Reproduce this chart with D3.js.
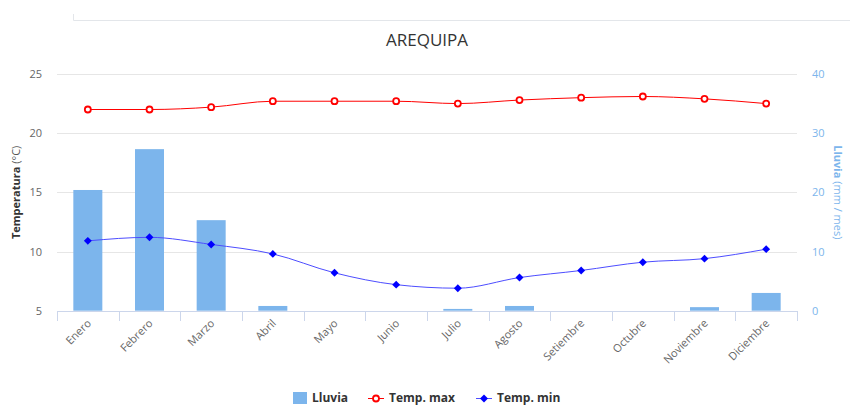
<!DOCTYPE html>
<html>
<head>
<meta charset="utf-8">
<script src="https://cdn.jsdelivr.net/npm/d3@7"></script>
<style>
  body { margin: 0; background: #fff; }
  svg { font-family: "Open Sans", "DejaVu Sans", sans-serif; }
</style>
</head>
<body>
<div id="chart"></div>
<script>
var months = ['Enero', 'Febrero', 'Marzo', 'Abril', 'Mayo', 'Junio', 'Julio',
              'Agosto', 'Setiembre', 'Octubre', 'Noviembre', 'Diciembre'];
var lluvia = [20.4, 27.3, 15.3, 0.8, 0, 0, 0.3, 0.8, 0, 0, 0.6, 3.0];
var tempMax = [22.0, 22.0, 22.2, 22.7, 22.7, 22.7, 22.5, 22.8, 23.0, 23.1, 22.9, 22.5];
var tempMin = [10.9, 11.2, 10.6, 9.8, 8.2, 7.2, 6.9, 7.8, 8.4, 9.1, 9.4, 10.2];
var tempTicks = [5, 10, 15, 20, 25];
var rainTicks = [0, 10, 20, 30, 40];

(function() {
var width = 850,
    height = 405,
    pLeft = 57,
    pRight = 797,
    pTop = 74,
    pBottom = 310.7;

var svg = d3.select('#chart').append('svg')
    .attr('width', width)
    .attr('height', height);

// container border remnant
svg.append('path')
    .attr('d', 'M73.5,14V20.5H850')
    .attr('fill', 'none')
    .attr('stroke', '#e3e6ea')
    .attr('stroke-width', 1);

var xScale = d3.scaleBand()
    .domain(months)
    .range([pLeft, pRight]);

var yTemp = d3.scaleLinear()
    .domain([5, 25])
    .range([pBottom, pTop]);

var yRain = d3.scaleLinear()
    .domain([0, 40])
    .range([pBottom, pTop]);

// gridlines
svg.append('g')
    .selectAll('line')
    .data(tempTicks.slice(1))
    .enter()
    .append('line')
    .attr('x1', pLeft)
    .attr('x2', pRight)
    .attr('y1', function(d) { return Math.round(yTemp(d)) + 0.5; })
    .attr('y2', function(d) { return Math.round(yTemp(d)) + 0.5; })
    .attr('stroke', '#e6e6e6');

// left axis labels
svg.append('g')
    .selectAll('text')
    .data(tempTicks)
    .enter()
    .append('text')
    .attr('x', 42)
    .attr('y', function(d) { return yTemp(d) + 4; })
    .attr('text-anchor', 'end')
    .style('font-size', '11px')
    .style('fill', '#666')
    .text(function(d) { return d; });

// right axis labels
svg.append('g')
    .selectAll('text')
    .data(rainTicks)
    .enter()
    .append('text')
    .attr('x', 812)
    .attr('y', function(d) { return yRain(d) + 4; })
    .attr('text-anchor', 'start')
    .style('font-size', '11px')
    .style('fill', '#7cb5ec')
    .text(function(d) { return d; });

// axis titles
var lt = svg.append('text')
    .attr('transform', 'translate(20,' + ((pTop + pBottom) / 2) + ') rotate(-90)')
    .attr('text-anchor', 'middle')
    .style('font-size', '11px')
    .style('fill', '#333');
lt.append('tspan').style('font-weight', 'bold').text('Temperatura');
lt.append('tspan').style('fill', '#555').text(' (°C)');

var rt = svg.append('text')
    .attr('transform', 'translate(834,' + ((pTop + pBottom) / 2) + ') rotate(90)')
    .attr('text-anchor', 'middle')
    .style('font-size', '11px')
    .style('fill', '#7cb5ec');
rt.append('tspan').style('font-weight', 'bold').text('Lluvia');
rt.append('tspan').text(' (mm / mes)');

// bars
var barWidth = 29;
svg.append('g')
    .selectAll('rect')
    .data(lluvia)
    .enter()
    .append('rect')
    .attr('x', function(d, i) { return xScale(months[i]) + xScale.bandwidth() / 2 - barWidth / 2; })
    .attr('y', function(d) { return yRain(d); })
    .attr('width', barWidth)
    .attr('height', function(d) { return pBottom - yRain(d); })
    .attr('fill', '#7cb5ec');

// x axis
var xAxis = svg.append('g');
xAxis.append('line')
    .attr('x1', pLeft)
    .attr('x2', pRight)
    .attr('y1', Math.round(pBottom) + 0.5)
    .attr('y2', Math.round(pBottom) + 0.5)
    .attr('stroke', '#ccd6eb');
xAxis.selectAll('.tick')
    .data(d3.range(months.length + 1))
    .enter()
    .append('line')
    .attr('class', 'tick')
    .attr('x1', function(i) { return Math.round(pLeft + i * xScale.step()) + 0.5; })
    .attr('x2', function(i) { return Math.round(pLeft + i * xScale.step()) + 0.5; })
    .attr('y1', Math.round(pBottom))
    .attr('y2', Math.round(pBottom) + 10)
    .attr('stroke', '#ccd6eb');
xAxis.selectAll('text')
    .data(months)
    .enter()
    .append('text')
    .attr('transform', function(d) {
        return 'translate(' + (xScale(d) + xScale.bandwidth() / 2 + 4) + ',' + 324 + ') rotate(-45)';
    })
    .attr('text-anchor', 'end')
    .style('font-size', '11px')
    .style('fill', '#666')
    .text(function(d) { return d; });

// lines
var xc = function(i) { return xScale(months[i]) + xScale.bandwidth() / 2; };
var line = d3.line()
    .x(function(d, i) { return xc(i); })
    .y(function(d) { return yTemp(d); })
    .curve(d3.curveMonotoneX);

svg.append('path')
    .datum(tempMax)
    .attr('d', line)
    .attr('fill', 'none')
    .attr('stroke', '#ff0000')
    .attr('stroke-width', 1);

svg.append('path')
    .datum(tempMin)
    .attr('d', line)
    .attr('fill', 'none')
    .attr('stroke', '#4d4dff')
    .attr('stroke-width', 1);

svg.append('g')
    .selectAll('circle')
    .data(tempMax)
    .enter()
    .append('circle')
    .attr('cx', function(d, i) { return xc(i); })
    .attr('cy', function(d) { return yTemp(d); })
    .attr('r', 3)
    .attr('fill', '#fff')
    .attr('stroke', '#ff0000')
    .attr('stroke-width', 1.8);

var diamond = d3.symbol().type(d3.symbolDiamond2).size(40);
svg.append('g')
    .selectAll('path')
    .data(tempMin)
    .enter()
    .append('path')
    .attr('transform', function(d, i) { return 'translate(' + xc(i) + ',' + yTemp(d) + ')'; })
    .attr('d', diamond)
    .attr('fill', '#0000ff');

// title
svg.append('text')
    .attr('x', 427)
    .attr('y', 46)
    .attr('text-anchor', 'middle')
    .style('font-size', '17px')
    .style('fill', '#333')
    .text('AREQUIPA');

// legend
var legend = svg.append('g').attr('transform', 'translate(0,398)');
legend.append('rect')
    .attr('x', 293)
    .attr('y', -6)
    .attr('width', 14)
    .attr('height', 12)
    .attr('fill', '#7cb5ec');
legend.append('text')
    .attr('x', 312)
    .attr('y', 4)
    .style('font-size', '12px')
    .style('font-weight', 'bold')
    .style('fill', '#333')
    .text('Lluvia');

legend.append('line')
    .attr('x1', 368).attr('x2', 384)
    .attr('y1', 0.5).attr('y2', 0.5)
    .attr('stroke', '#ff0000');
legend.append('circle')
    .attr('cx', 376).attr('cy', 0.5).attr('r', 3)
    .attr('fill', '#fff').attr('stroke', '#ff0000').attr('stroke-width', 1.8);
legend.append('text')
    .attr('x', 389)
    .attr('y', 4)
    .style('font-size', '12px')
    .style('font-weight', 'bold')
    .style('fill', '#333')
    .text('Temp. max');

legend.append('line')
    .attr('x1', 476).attr('x2', 492)
    .attr('y1', 0.5).attr('y2', 0.5)
    .attr('stroke', '#4d4dff');
legend.append('path')
    .attr('transform', 'translate(484,0.5)')
    .attr('d', diamond)
    .attr('fill', '#0000ff');
legend.append('text')
    .attr('x', 497)
    .attr('y', 4)
    .style('font-size', '12px')
    .style('font-weight', 'bold')
    .style('fill', '#333')
    .text('Temp. min');
})();
</script>
</body>
</html>
